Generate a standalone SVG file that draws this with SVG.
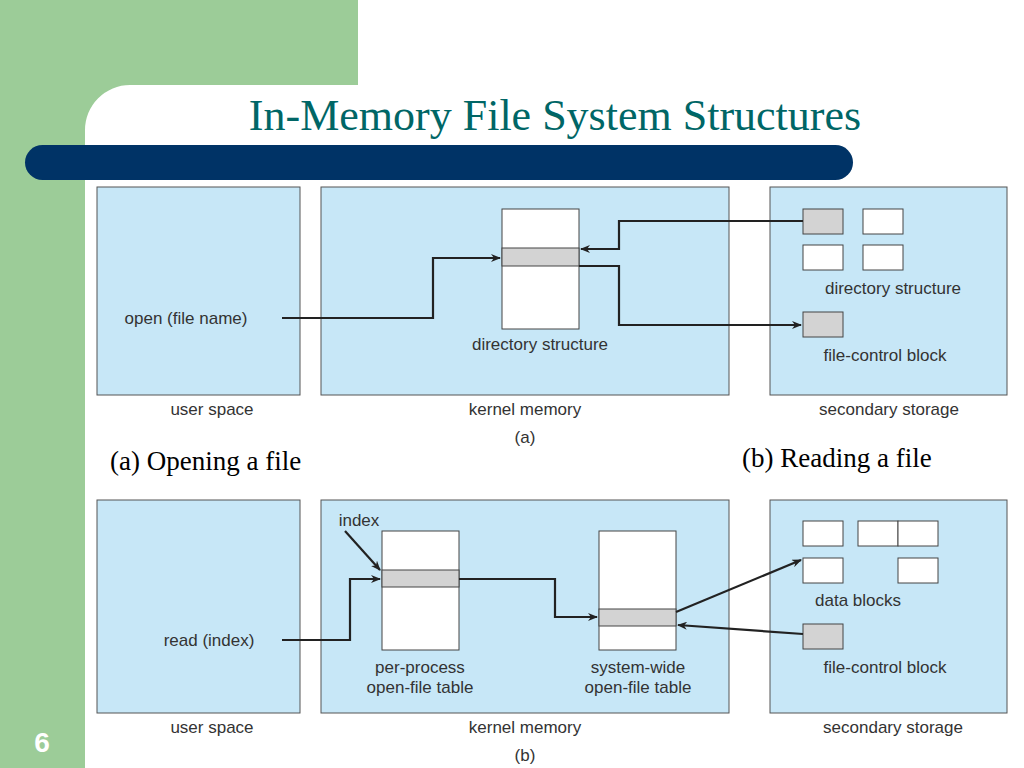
<svg xmlns="http://www.w3.org/2000/svg" width="1024" height="768" viewBox="0 0 1024 768">
<defs>
<style>
.p{fill:#c7e7f7;stroke:#555;stroke-width:1}
.t{fill:#fff;stroke:#444;stroke-width:1}
.g{fill:#d3d3d3;stroke:#444;stroke-width:1}
.l{font-family:"Liberation Sans",Arial,sans-serif;font-size:17px;fill:#333}
.c{fill:none;stroke:#222;stroke-width:2.2}
.s{font-family:"Liberation Serif","Times New Roman",serif;font-size:27px;fill:#000}
</style>
<marker id="a" markerWidth="10" markerHeight="8" refX="9" refY="4" orient="auto" markerUnits="userSpaceOnUse"><path d="M0,0 L10,4 L0,8 L3,4 z" fill="#222"/></marker>
</defs>
<rect width="1024" height="768" fill="#fff"/>
<rect x="0" y="0" width="358" height="85" fill="#9ccc98"/>
<rect x="0" y="0" width="85" height="768" fill="#9ccc98"/>
<path d="M85,130 A45,45 0 0 1 130,85 L358,85 L358,130 Z" fill="#fff"/>
<rect x="85" y="85" width="273" height="683" fill="#fff" rx="0"/>
<path d="M85,85 L130,85 A45,45 0 0 0 85,130 Z" fill="#9ccc98"/>
<rect x="85" y="130" width="939" height="638" fill="#fff"/>
<text x="555" y="130" text-anchor="middle" font-family="Liberation Serif,serif" font-size="44" fill="#006666">In-Memory File System Structures</text>
<rect x="25" y="145" width="828" height="35" rx="17.5" fill="#003366"/>
<rect x="85" y="180" width="768" height="0" fill="#003366"/>
<text x="42" y="752" text-anchor="middle" font-family="Liberation Sans,sans-serif" font-weight="bold" font-size="28" fill="#fff">6</text>

<g id="panels-a">
<rect class="p" x="97" y="187" width="203" height="208"/>
<rect class="p" x="321" y="187" width="408" height="208"/>
<rect class="p" x="770" y="187" width="237" height="208"/>
</g>
<g id="dir-mem"><rect class="t" x="502" y="209" width="77" height="120"/><rect class="g" x="502" y="248" width="77" height="18"/>
<text class="l" x="540" y="350" text-anchor="middle">directory structure</text></g>
<g id="storage-a">
<rect class="g" x="803" y="209" width="40" height="25"/><rect class="t" x="863" y="209" width="40" height="25"/>
<rect class="t" x="803" y="245" width="40" height="25"/><rect class="t" x="863" y="245" width="40" height="25"/>
<text class="l" x="893" y="294" text-anchor="middle">directory structure</text>
<rect class="g" x="803" y="312" width="40" height="25"/>
<text class="l" x="885" y="361" text-anchor="middle">file-control block</text></g>
<g id="labels-a" class="l">
<text class="l" x="186" y="324" text-anchor="middle">open (file name)</text>
<text class="l" x="212" y="415" text-anchor="middle">user space</text>
<text class="l" x="525" y="415" text-anchor="middle">kernel memory</text>
<text class="l" x="525" y="443" text-anchor="middle">(a)</text>
<text class="l" x="889" y="415" text-anchor="middle">secondary storage</text></g>
<g id="conn-a">
<path class="c" d="M282,318 H433 V258 H500" marker-end="url(#a)"/>
<path class="c" d="M803,221 H619 V249 H581" marker-end="url(#a)"/>
<path class="c" d="M579,266 H619 V325 H801" marker-end="url(#a)"/>
</g>
<text class="s" x="110" y="470">(a) Opening a file</text>
<text class="s" x="742" y="467">(b) Reading a file</text>

<g id="panels-b">
<rect class="p" x="97" y="500" width="203" height="213"/>
<rect class="p" x="321" y="500" width="408" height="213"/>
<rect class="p" x="770" y="500" width="237" height="213"/>
</g>
<g id="ppt"><rect class="t" x="382" y="531" width="77" height="119"/><rect class="g" x="382" y="570" width="77" height="17"/>
<text class="l" x="420" y="673" text-anchor="middle">per-process</text><text class="l" x="420" y="693" text-anchor="middle">open-file table</text></g>
<g id="swt"><rect class="t" x="599" y="531" width="77" height="119"/><rect class="g" x="599" y="609" width="77" height="17"/>
<text class="l" x="638" y="673" text-anchor="middle">system-wide</text><text class="l" x="638" y="693" text-anchor="middle">open-file table</text></g>
<g id="storage-b">
<rect class="t" x="803" y="521" width="40" height="25"/><rect class="t" x="858" y="521" width="40" height="25"/><rect class="t" x="898" y="521" width="40" height="25"/>
<rect class="t" x="803" y="558" width="40" height="25"/><rect class="t" x="898" y="558" width="40" height="25"/>
<text class="l" x="858" y="606" text-anchor="middle">data blocks</text>
<rect class="g" x="803" y="624" width="40" height="25"/>
<text class="l" x="885" y="673" text-anchor="middle">file-control block</text></g>
<g id="labels-b">
<text class="l" x="359" y="526" text-anchor="middle">index</text>
<text class="l" x="209" y="646" text-anchor="middle">read (index)</text>
<text class="l" x="212" y="733" text-anchor="middle">user space</text>
<text class="l" x="525" y="733" text-anchor="middle">kernel memory</text>
<text class="l" x="525" y="761" text-anchor="middle">(b)</text>
<text class="l" x="893" y="733" text-anchor="middle">secondary storage</text></g>
<g id="conn-b">
<path class="c" d="M282,640 H350 V579 H380" marker-end="url(#a)"/>
<path class="c" d="M345,531 L380,570" marker-end="url(#a)"/>
<path class="c" d="M459,579 H555 V617 H597" marker-end="url(#a)"/>
<path class="c" d="M676,612 L801,560" marker-end="url(#a)"/>
<path class="c" d="M803,634 L678,625" marker-end="url(#a)"/>
</g>
</svg>
